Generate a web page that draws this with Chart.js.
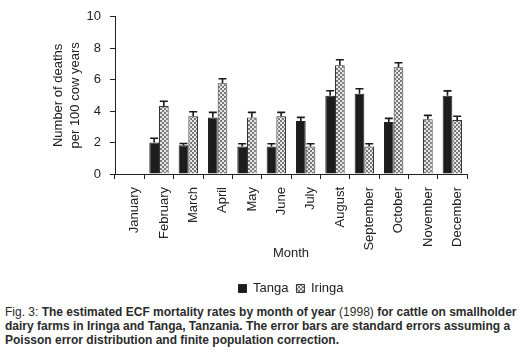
<!DOCTYPE html>
<html><head><meta charset="utf-8">
<script src="https://cdn.jsdelivr.net/npm/chart.js@4"></script>
<style>
html,body{margin:0;padding:0;background:#fff;}
#wrap{position:relative;width:525px;height:357px;overflow:hidden;background:#fff;}
#c{position:absolute;left:0;top:0;}
#cap{position:absolute;left:5px;top:305px;white-space:nowrap;font:bold 12px "Liberation Sans",Arial,sans-serif;line-height:14px;color:#2b2b2b;}
#cap .n{font-weight:normal;}
</style></head><body>
<div id="wrap"><canvas id="c" width="525" height="305"></canvas>
<div id="cap"><span class="n">Fig. 3:</span> The estimated ECF mortality rates by month of year <span class="n">(1998)</span> for cattle on smallholder<br>dairy farms in Iringa and Tanga, Tanzania. The error bars are standard errors assuming a<br>Poisson error distribution and finite population correction.</div></div>
<script>
const months = ['January','February','March','April','May','June','July','August','September','October','November','December'];
const tanga = [0, 2.0, 1.83, 3.6, 1.75, 1.75, 3.37, 4.98, 5.1, 3.31, 0, 4.98];
const iringa = [0, 4.33, 3.67, 5.77, 3.6, 3.67, 1.75, 6.92, 1.75, 6.79, 3.48, 3.44];
const tangaErr = [0, 0.27, 0.11, 0.32, 0.17, 0.17, 0.23, 0.32, 0.32, 0.23, 0, 0.31];
const iringaErr = [0, 0.3, 0.29, 0.29, 0.32, 0.25, 0.17, 0.35, 0.17, 0.29, 0.25, 0.23];
const yTicks = [0, 2, 4, 6, 8, 10];

Chart.defaults.font.family = '"Liberation Sans", Arial, sans-serif';
Chart.defaults.font.size = 13;
Chart.defaults.color = '#222';

const canvas = document.getElementById('c');
const ctx = canvas.getContext('2d');
const pc = document.createElement('canvas'); pc.width = 4; pc.height = 4;
const g = pc.getContext('2d');
g.fillStyle = '#e6e6e6'; g.fillRect(0,0,4,4);
g.fillStyle = '#7a7a7a'; g.fillRect(0,0,2,2); g.fillRect(2,2,2,2);
const pattern = ctx.createPattern(pc, 'repeat');

const errs = [tangaErr, iringaErr];
const errPlugin = {
  id: 'err',
  afterDatasetsDraw(chart) {
    const c = chart.ctx, y = chart.scales.y;
    chart.data.datasets.forEach((ds, i) => {
      const meta = chart.getDatasetMeta(i);
      meta.data.forEach((bar, j) => {
        const e = errs[i][j];
        if (!e) return;
        const yt = y.getPixelForValue(ds.data[j] + e);
        c.save();
        c.strokeStyle = '#1a1a1a'; c.lineWidth = 1.6;
        c.beginPath();
        c.moveTo(bar.x, bar.y); c.lineTo(bar.x, yt);
        c.moveTo(bar.x - 4, yt); c.lineTo(bar.x + 4, yt);
        c.stroke();
        c.restore();
      });
    });
  }
};

new Chart(ctx, {
  type: 'bar',
  data: {
    labels: months,
    datasets: [
      {label: 'Tanga', data: tanga, backgroundColor: '#1c1c1c', borderColor: '#222', borderWidth: 1, categoryPercentage: 0.66, barPercentage: 1},
      {label: 'Iringa', data: iringa, backgroundColor: pattern, borderColor: '#333', borderWidth: 1, categoryPercentage: 0.66, barPercentage: 1}
    ]
  },
  options: {
    responsive: false,
    animation: false,
    devicePixelRatio: 1,
    layout: {padding: {left: 50, top: 14, right: 58, bottom: 0}},
    plugins: {
      legend: {
        position: 'bottom', fullSize: false,
        labels: {boxWidth: 8, boxHeight: 8, padding: 8, color: '#222', font: {size: 13}}
      },
      tooltip: {enabled: false}
    },
    scales: {
      x: {
        offset: true,
        grid: {display: true, drawOnChartArea: false, offset: true, tickLength: 5, color: '#222'},
        border: {color: '#222', width: 1},
        ticks: {minRotation: 90, maxRotation: 90, autoSkip: false, padding: 8, labelOffset: 5, color: '#222'},
        title: {display: true, text: 'Month', color: '#222', font: {size: 13}, padding: {top: 0, bottom: 13}},
        afterFit: s => { s.height = 100; }
      },
      y: {
        min: 0, max: 10,
        afterBuildTicks: s => { s.ticks = yTicks.map(v => ({value: v})); },
        grid: {display: true, drawOnChartArea: false, tickLength: 5, color: '#222'},
        border: {color: '#222', width: 1},
        ticks: {padding: 9, color: '#222'},
        title: {display: true, text: ['Number of deaths', 'per 100 cow years'], color: '#222', font: {size: 13, lineHeight: 1.3}, padding: {top: 0, bottom: 0}},
        afterFit: s => { s.width = 65; }
      }
    }
  },
  plugins: [errPlugin]
});
</script>
</body></html>
